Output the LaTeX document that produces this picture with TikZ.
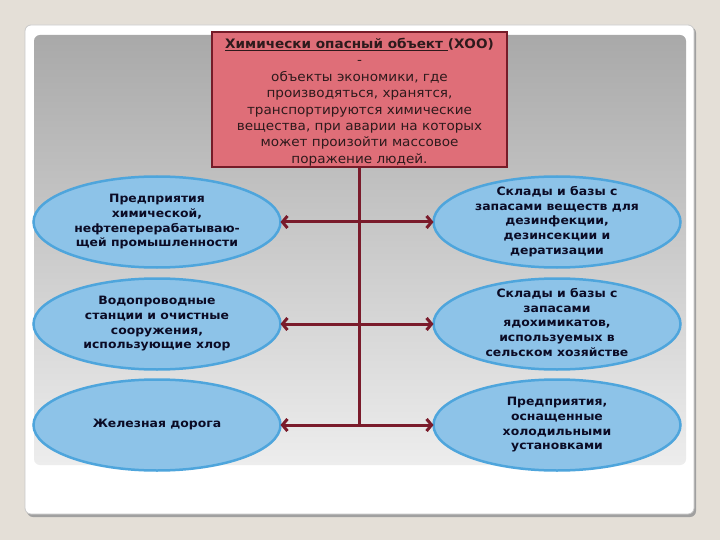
\documentclass[tikz,border=0pt]{standalone}
\usepackage{fontspec}
\setmainfont{DejaVu Sans}
\newfontfamily\ellfont[FakeStretch=1.08]{DejaVu Sans}
\newfontfamily\boxfont[FakeStretch=1.045]{DejaVu Sans}
\usetikzlibrary{shapes.geometric,arrows.meta}
\definecolor{bgc}{HTML}{E4DFD7}
\definecolor{shadowc}{HTML}{A0A0A0}
\definecolor{cardline}{HTML}{C9C9C9}
\definecolor{paneltop}{HTML}{A9A9A9}
\definecolor{panelmid}{HTML}{D9D9D9}
\definecolor{panelbot}{HTML}{EDEDED}
\definecolor{redfill}{HTML}{DF6E78}
\definecolor{redline}{HTML}{761B28}
\definecolor{redtext}{HTML}{2E1A1C}
\definecolor{connc}{HTML}{7A1B2B}
\definecolor{ellfill}{HTML}{8DC3E8}
\definecolor{ellline}{HTML}{4EA5DC}
\definecolor{elltext}{HTML}{0B0B25}
\newcommand\ctext[2][-2.9pt]{\makebox[0pt]{\raisebox{#1}[0pt][0pt]{\begin{tabular}{@{}c@{}}#2\end{tabular}}}}
\begin{document}
\begin{tikzpicture}[x=1pt,y=-1pt,
  oval/.style={ellipse, draw=ellline, line width=2.5pt, fill=ellfill,
    minimum width=247, minimum height=91, inner sep=0pt, outer sep=0pt,
    text=elltext, font=\ellfont\fontsize{11.5}{14.6}\selectfont\bfseries},
  defbox/.style={rectangle, draw=redline, line width=2pt, fill=redfill,
    minimum width=295, minimum height=135, inner sep=0pt, outer sep=0pt,
    text=redtext, font=\boxfont\fontsize{13}{16.4}\selectfont},
  conn/.style={draw=connc, line width=3pt},
  >={Straight Barb[length=5pt,width=12pt]}]
\useasboundingbox (0,0) rectangle (720,540);
\fill[bgc] (0,0) rectangle (720,540);
\fill[shadowc, rounded corners=6] (27,27) rectangle (696,517);
\filldraw[fill=white, draw=cardline, line width=0.8pt, rounded corners=6] (25,25) rectangle (694,514);
\shade[rounded corners=6, top color=paneltop, middle color=panelmid, bottom color=panelbot] (34,35) rectangle (686,465);

\node[defbox] (box) at (359.5,99.5) {\ctext[-6.2pt]{\underline{\textbf{Химически опасный объект\ }}\textbf{(ХОО)}\\
-\\
объекты экономики, где\\
производяться, хранятся,\\
транспортируются химические\\
вещества, при аварии на которых\\
может произойти массовое\\
поражение людей.}};

\node[oval] (L1) at (157,222) {\ctext{Предприятия\\химической,\\нефтеперерабатываю-\\щей промышленности}};
\node[oval] (L2) at (157,324) {\ctext{Водопроводные\\станции и очистные\\сооружения,\\использующие хлор}};
\node[oval] (L3) at (157,425) {\ctext{Железная дорога}};
\node[oval] (R1) at (557,222) {\ctext{Склады и базы с\\запасами веществ для\\дезинфекции,\\дезинсекции и\\дератизации}};
\node[oval] (R2) at (557,324) {\ctext{Склады и базы с\\запасами\\ядохимикатов,\\используемых в\\сельском хозяйстве}};
\node[oval] (R3) at (557,425) {\ctext{Предприятия,\\оснащенные\\холодильными\\установками}};

\draw[conn, line width=2.5pt] (box.south) -- (box.south |- L3.east);
\draw[conn, <->] (L1) -- (R1);
\draw[conn, <->] (L2) -- (R2);
\draw[conn, <->] (L3) -- (R3);
\end{tikzpicture}
\end{document}
